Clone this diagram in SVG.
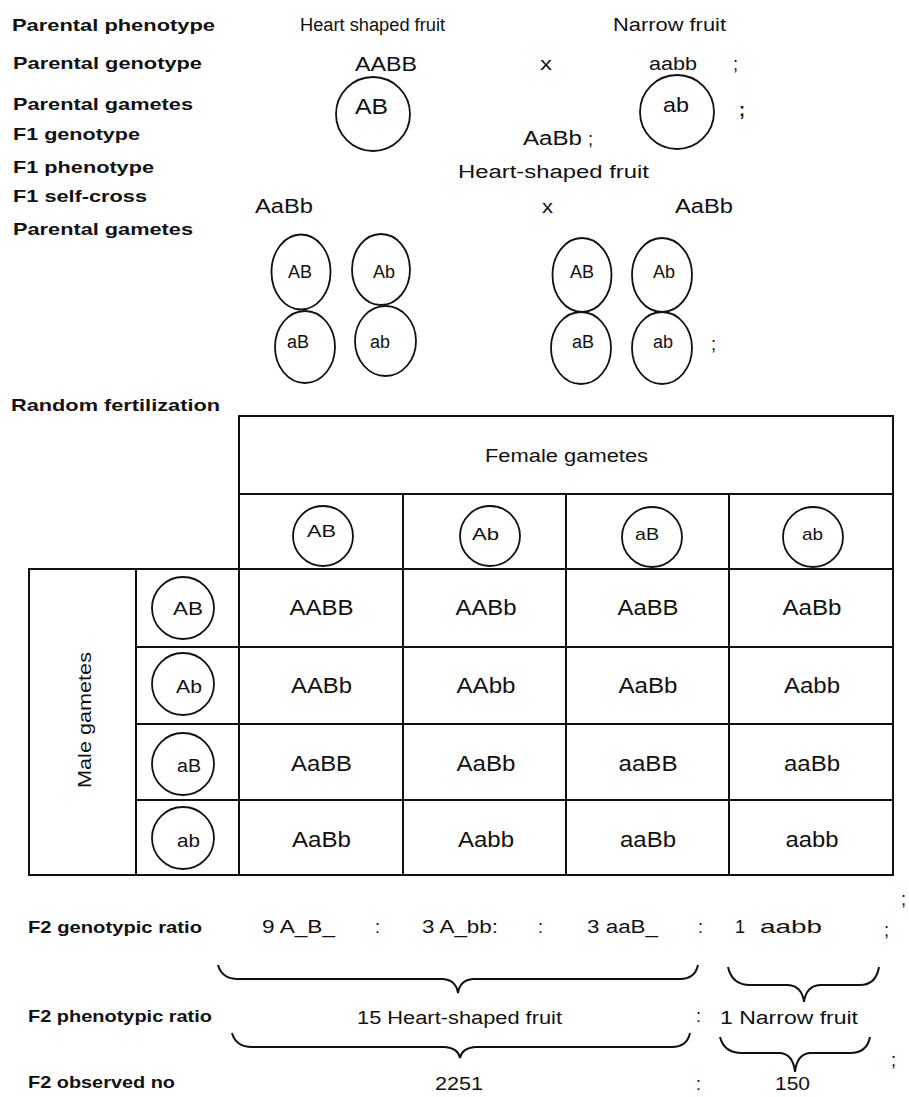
<svg xmlns="http://www.w3.org/2000/svg" width="909" height="1097" viewBox="0 0 909 1097">
<style>
text{font-family:"Liberation Sans",Arial,sans-serif;fill:#111}
.lb{font-weight:bold;font-size:17px}
.t{font-size:18px}
.c{font-size:22px}
.m{font-size:20px}
.s{font-size:17px}
.g{fill:none;stroke:#111;stroke-width:1.8}
.ln{stroke:#111;stroke-width:2;fill:none}
.br{fill:none;stroke:#111;stroke-width:2}
</style>
<rect width="909" height="1097" fill="#fff"/>
<g id="labels">
<text class="lb" x="12" y="31" textLength="203" lengthAdjust="spacingAndGlyphs">Parental phenotype</text>
<text class="lb" x="13" y="69" textLength="189" lengthAdjust="spacingAndGlyphs">Parental genotype</text>
<text class="lb" x="13" y="110" textLength="180" lengthAdjust="spacingAndGlyphs">Parental gametes</text>
<text class="lb" x="13" y="140" textLength="127" lengthAdjust="spacingAndGlyphs">F1 genotype</text>
<text class="lb" x="13" y="173" textLength="141" lengthAdjust="spacingAndGlyphs">F1 phenotype</text>
<text class="lb" x="13" y="202" textLength="134" lengthAdjust="spacingAndGlyphs">F1 self-cross</text>
<text class="lb" x="13" y="235" textLength="180" lengthAdjust="spacingAndGlyphs">Parental gametes</text>
<text class="lb" x="11" y="411" textLength="209" lengthAdjust="spacingAndGlyphs">Random fertilization</text>
<text class="lb" x="28" y="933" textLength="174" lengthAdjust="spacingAndGlyphs">F2 genotypic ratio</text>
<text class="lb" x="28" y="1022" textLength="184" lengthAdjust="spacingAndGlyphs">F2 phenotypic ratio</text>
<text class="lb" x="28" y="1088" textLength="147" lengthAdjust="spacingAndGlyphs">F2 observed no</text>
</g>
<g id="parents">
<text class="t" x="300" y="31" textLength="145" lengthAdjust="spacingAndGlyphs">Heart shaped fruit</text>
<text class="t" x="613" y="31" textLength="113" lengthAdjust="spacingAndGlyphs">Narrow fruit</text>
<text class="m" x="355" y="71" textLength="62" lengthAdjust="spacingAndGlyphs">AABB</text>
<text class="t" x="540" y="70" textLength="12" lengthAdjust="spacingAndGlyphs">x</text>
<text class="t" x="649" y="70" textLength="48" lengthAdjust="spacingAndGlyphs">aabb</text>
<text class="t" x="733" y="70">;</text>
</g>
<g id="gamete-AB">
<circle class="g" cx="373" cy="114" r="37"/>
<text class="c" x="355" y="114" textLength="33" lengthAdjust="spacingAndGlyphs">AB</text>
</g>
<g id="gamete-ab">
<circle class="g" cx="677" cy="112" r="37"/>
<text class="m" x="663" y="112" textLength="26" lengthAdjust="spacingAndGlyphs">ab</text>
<text class="t" x="739" y="116" font-weight="bold">;</text>
</g>
<g id="f1">
<text class="m" x="523" y="145" textLength="59" lengthAdjust="spacingAndGlyphs">AaBb</text>
<text class="t" x="588" y="145">;</text>
<text class="t" x="458" y="178" textLength="191" lengthAdjust="spacingAndGlyphs">Heart-shaped fruit</text>
<text class="m" x="255" y="213" textLength="58" lengthAdjust="spacingAndGlyphs">AaBb</text>
<text class="t" x="542" y="213" textLength="11" lengthAdjust="spacingAndGlyphs">x</text>
<text class="m" x="675" y="213" textLength="58" lengthAdjust="spacingAndGlyphs">AaBb</text>
</g>
<g id="f1-gametes-left">
<ellipse class="g" cx="301" cy="272" rx="29.5" ry="37.5"/>
<ellipse class="g" cx="381" cy="269.5" rx="29" ry="35.5"/>
<ellipse class="g" cx="305" cy="347" rx="30" ry="36"/>
<ellipse class="g" cx="385.5" cy="341" rx="30.5" ry="35"/>
<text class="t" x="288" y="278">AB</text>
<text class="t" x="373" y="278">Ab</text>
<text class="t" x="287" y="348">aB</text>
<text class="t" x="370" y="348">ab</text>
</g>
<g id="f1-gametes-right">
<ellipse class="g" cx="582" cy="275" rx="29.5" ry="37"/>
<ellipse class="g" cx="662" cy="275" rx="30" ry="37"/>
<ellipse class="g" cx="581" cy="348" rx="30" ry="36"/>
<ellipse class="g" cx="662" cy="348" rx="30" ry="36"/>
<text class="t" x="570" y="278">AB</text>
<text class="t" x="653" y="278">Ab</text>
<text class="t" x="572" y="348">aB</text>
<text class="t" x="653" y="348">ab</text>
<text class="t" x="711" y="350">;</text>
</g>
<g id="punnett-grid">
<rect class="ln" x="239" y="416" width="654" height="78"/>
<rect class="ln" x="239" y="494" width="654" height="75"/>
<line class="ln" x1="403" y1="494" x2="403" y2="875"/>
<line class="ln" x1="566" y1="494" x2="566" y2="875"/>
<line class="ln" x1="729" y1="494" x2="729" y2="875"/>
<rect class="ln" x="29" y="569" width="864" height="306"/>
<line class="ln" x1="136" y1="569" x2="136" y2="875"/>
<line class="ln" x1="239" y1="569" x2="239" y2="875"/>
<line class="ln" x1="136" y1="647" x2="893" y2="647"/>
<line class="ln" x1="136" y1="724" x2="893" y2="724"/>
<line class="ln" x1="136" y1="800" x2="893" y2="800"/>
</g>
<g id="female-gametes">
<text class="t" x="485" y="462" textLength="163" lengthAdjust="spacingAndGlyphs">Female gametes</text>
<circle class="g" cx="323" cy="536" r="30"/>
<circle class="g" cx="490" cy="536" r="30"/>
<circle class="g" cx="652" cy="537" r="30"/>
<circle class="g" cx="813" cy="537" r="30"/>
<text class="s" x="307" y="537" textLength="29" lengthAdjust="spacingAndGlyphs">AB</text>
<text class="s" x="472" y="540" textLength="27" lengthAdjust="spacingAndGlyphs">Ab</text>
<text class="s" x="635" y="540" textLength="24" lengthAdjust="spacingAndGlyphs">aB</text>
<text class="s" x="802" y="540" textLength="21" lengthAdjust="spacingAndGlyphs">ab</text>
</g>
<g id="male-gametes">
<text class="t" transform="translate(91,720) rotate(-90)" text-anchor="middle" textLength="136" lengthAdjust="spacingAndGlyphs">Male gametes</text>
<circle class="g" cx="183" cy="608" r="31"/>
<circle class="g" cx="183" cy="684" r="31"/>
<circle class="g" cx="183" cy="764" r="31"/>
<circle class="g" cx="183" cy="838" r="31"/>
<text class="t" x="173" y="615" textLength="30" lengthAdjust="spacingAndGlyphs">AB</text>
<text class="t" x="176" y="693" textLength="26" lengthAdjust="spacingAndGlyphs">Ab</text>
<text class="t" x="177" y="772" textLength="24" lengthAdjust="spacingAndGlyphs">aB</text>
<text class="t" x="177" y="847" textLength="23" lengthAdjust="spacingAndGlyphs">ab</text>
</g>
<g id="offspring" text-anchor="middle">
<text class="c" x="321.5" y="615" textLength="64" lengthAdjust="spacingAndGlyphs">AABB</text>
<text class="c" x="486" y="615" textLength="61" lengthAdjust="spacingAndGlyphs">AABb</text>
<text class="c" x="648" y="615" textLength="61" lengthAdjust="spacingAndGlyphs">AaBB</text>
<text class="c" x="812" y="615" textLength="59" lengthAdjust="spacingAndGlyphs">AaBb</text>
<text class="c" x="321.5" y="693" textLength="61" lengthAdjust="spacingAndGlyphs">AABb</text>
<text class="c" x="486" y="693" textLength="59" lengthAdjust="spacingAndGlyphs">AAbb</text>
<text class="c" x="648" y="693" textLength="59" lengthAdjust="spacingAndGlyphs">AaBb</text>
<text class="c" x="812" y="693" textLength="56" lengthAdjust="spacingAndGlyphs">Aabb</text>
<text class="c" x="321.5" y="771" textLength="61" lengthAdjust="spacingAndGlyphs">AaBB</text>
<text class="c" x="486" y="771" textLength="59" lengthAdjust="spacingAndGlyphs">AaBb</text>
<text class="c" x="648" y="771" textLength="59" lengthAdjust="spacingAndGlyphs">aaBB</text>
<text class="c" x="812" y="771" textLength="56" lengthAdjust="spacingAndGlyphs">aaBb</text>
<text class="c" x="321.5" y="847" textLength="59" lengthAdjust="spacingAndGlyphs">AaBb</text>
<text class="c" x="486" y="847" textLength="56" lengthAdjust="spacingAndGlyphs">Aabb</text>
<text class="c" x="648" y="847" textLength="56" lengthAdjust="spacingAndGlyphs">aaBb</text>
<text class="c" x="812" y="847" textLength="53" lengthAdjust="spacingAndGlyphs">aabb</text>
</g>
<g id="ratios">
<text class="t" x="262" y="933" textLength="73" lengthAdjust="spacingAndGlyphs">9 A_B_</text>
<text class="t" x="375" y="933">:</text>
<text class="t" x="422" y="933" textLength="76" lengthAdjust="spacingAndGlyphs">3 A_bb:</text>
<text class="t" x="538" y="933">:</text>
<text class="t" x="587" y="933" textLength="71" lengthAdjust="spacingAndGlyphs">3 aaB_</text>
<text class="t" x="698" y="933">:</text>
<text class="t" x="735" y="933">1 <tspan x="760" textLength="62" lengthAdjust="spacingAndGlyphs">aabb</tspan></text>
<text class="t" x="884" y="936">;</text>
<text class="t" x="901" y="905">;</text>
<text class="t" x="357" y="1024" textLength="205" lengthAdjust="spacingAndGlyphs">15 Heart-shaped fruit</text>
<text class="t" x="696" y="1022">:</text>
<text class="t" x="720" y="1024" textLength="138" lengthAdjust="spacingAndGlyphs">1 Narrow fruit</text>
<text class="t" x="891" y="1066">;</text>
<text class="t" x="435" y="1090" textLength="48" lengthAdjust="spacingAndGlyphs">2251</text>
<text class="t" x="696" y="1090">:</text>
<text class="t" x="775" y="1090" textLength="35" lengthAdjust="spacingAndGlyphs">150</text>
</g>
<g id="connectors">
<path class="br" d="M218,965 Q222,979 238,979 L443,979 Q456,980 458,993 Q460,980 473,979 L680,979 Q695,979 698,965"/>
<path class="br" d="M728,967 Q732,985 750,985 L788,985 Q802,986 804,1002 Q806,986 820,985 L860,985 Q876,985 879,967"/>
<path class="br" d="M232,1033 Q236,1047 252,1047 L445,1047 Q458,1048 460,1058 Q462,1048 475,1047 L672,1047 Q687,1047 690,1033"/>
<path class="br" d="M720,1037 Q724,1053 742,1053 L780,1053 Q793,1054 795,1072 Q797,1054 810,1053 L850,1053 Q867,1053 870,1037"/>
</g>
</svg>
